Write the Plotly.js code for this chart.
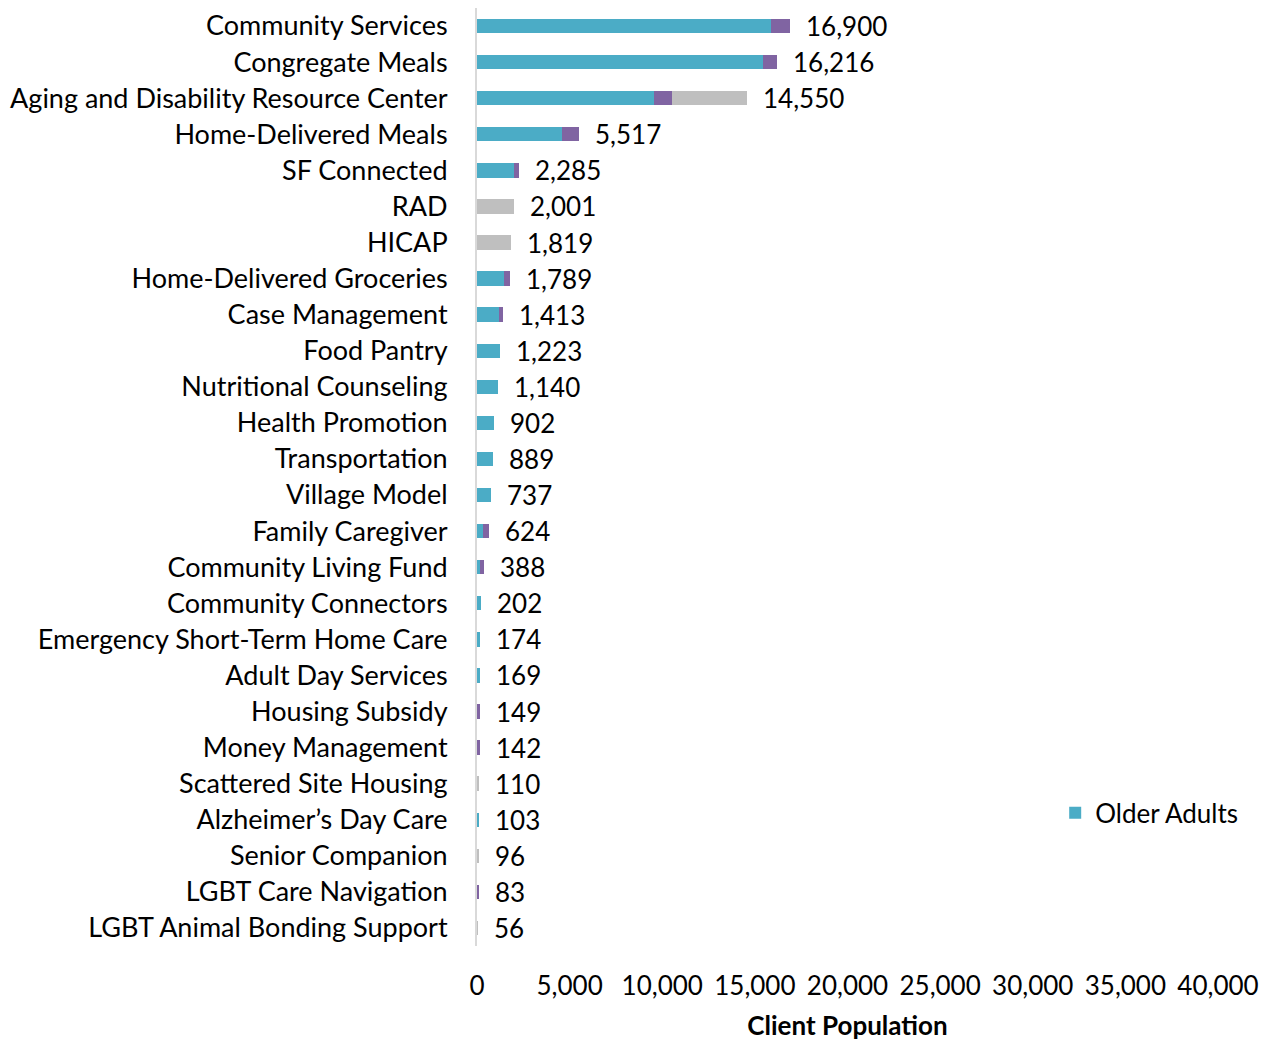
<!DOCTYPE html>
<html>
<head>
<meta charset="utf-8">
<script src="https://cdn.plot.ly/plotly-3.0.1.min.js"></script>
<style>html,body{margin:0;padding:0;background:#fff;}#chart{width:1270px;height:1043px;}</style>
</head>
<body>
<div id="chart"></div>
<script>
const categories = [
  "Community Services","Congregate Meals","Aging and Disability Resource Center","Home-Delivered Meals",
  "SF Connected","RAD","HICAP","Home-Delivered Groceries","Case Management","Food Pantry",
  "Nutritional Counseling","Health Promotion","Transportation","Village Model","Family Caregiver",
  "Community Living Fund","Community Connectors","Emergency Short-Term Home Care","Adult Day Services",
  "Housing Subsidy","Money Management","Scattered Site Housing","Alzheimer\u2019s Day Care",
  "Senior Companion","LGBT Care Navigation","LGBT Animal Bonding Support"
];
const olderAdults = [15850,15420,9540,4590,1980,0,0,1440,1205,1223,1140,902,889,737,310,180,202,174,169,0,0,0,103,0,0,0];
const adultsWithDisabilities = [1050,796,980,927,305,0,0,349,208,0,0,0,0,0,314,208,0,0,0,149,142,0,0,0,83,0];
const unknown = [0,0,4030,0,0,2001,1819,0,0,0,0,0,0,0,0,0,0,0,0,0,0,110,0,96,0,56];
const totals = [16900,16216,14550,5517,2285,2001,1819,1789,1413,1223,1140,902,889,737,624,388,202,174,169,149,142,110,103,96,83,56];
const xTicks = [0,5000,10000,15000,20000,25000,30000,35000,40000];
const xTickLabels = ["0","5,000","10,000","15,000","20,000","25,000","30,000","35,000","40,000"];

const FONT = "Lato, 'Open Sans', sans-serif";
const traces = [
  {type:'bar', orientation:'h', name:'Older Adults', y:categories, x:olderAdults,
   marker:{color:'#4BACC6'}, showlegend:true, hoverinfo:'x+y'},
  {type:'bar', orientation:'h', name:'Adults with Disabilities', y:categories, x:adultsWithDisabilities,
   marker:{color:'#8064A2'}, showlegend:false},
  {type:'bar', orientation:'h', name:'Unknown', y:categories, x:unknown,
   marker:{color:'#BFBFBF'}, showlegend:false}
];
const annotations = categories.map((c,i)=>({
  x: totals[i], y: c, xref:'x', yref:'y', text: totals[i].toLocaleString('en-US'),
  showarrow:false, xanchor:'left', yanchor:'middle', xshift:14,
  font:{family:FONT, size:26, color:'#000'}
}));
const layout = {
  width:1270, height:1043,
  margin:{l:477, r:52, t:8, b:97},
  paper_bgcolor:'#fff', plot_bgcolor:'#fff',
  barmode:'stack', bargap:0.6,
  font:{family:FONT, size:26, color:'#000'},
  xaxis:{range:[0,40000], tickvals:xTicks, ticktext:xTickLabels, showgrid:false, zeroline:false,
    showline:false, ticks:'', ticklabelstandoff:22, tickfont:{family:FONT,size:26,color:'#000'},
    title:{text:'<b>Client Population</b>', font:{family:FONT,size:26,color:'#000'}, standoff:16}},
  yaxis:{autorange:'reversed', showgrid:false, zeroline:false, showline:true, linecolor:'#D9D9D9', linewidth:2,
    ticks:'', ticklabelstandoff:22, tickfont:{family:FONT,size:27,color:'#000'}},
  legend:{x:1.034, xanchor:'right', y:0.142, yanchor:'middle', font:{family:FONT,size:26,color:'#000'},
    bgcolor:'rgba(0,0,0,0)', itemwidth:30},
  annotations: annotations
};
Plotly.newPlot('chart', traces, layout, {displayModeBar:false, staticPlot:true});
</script>
</body>
</html>
